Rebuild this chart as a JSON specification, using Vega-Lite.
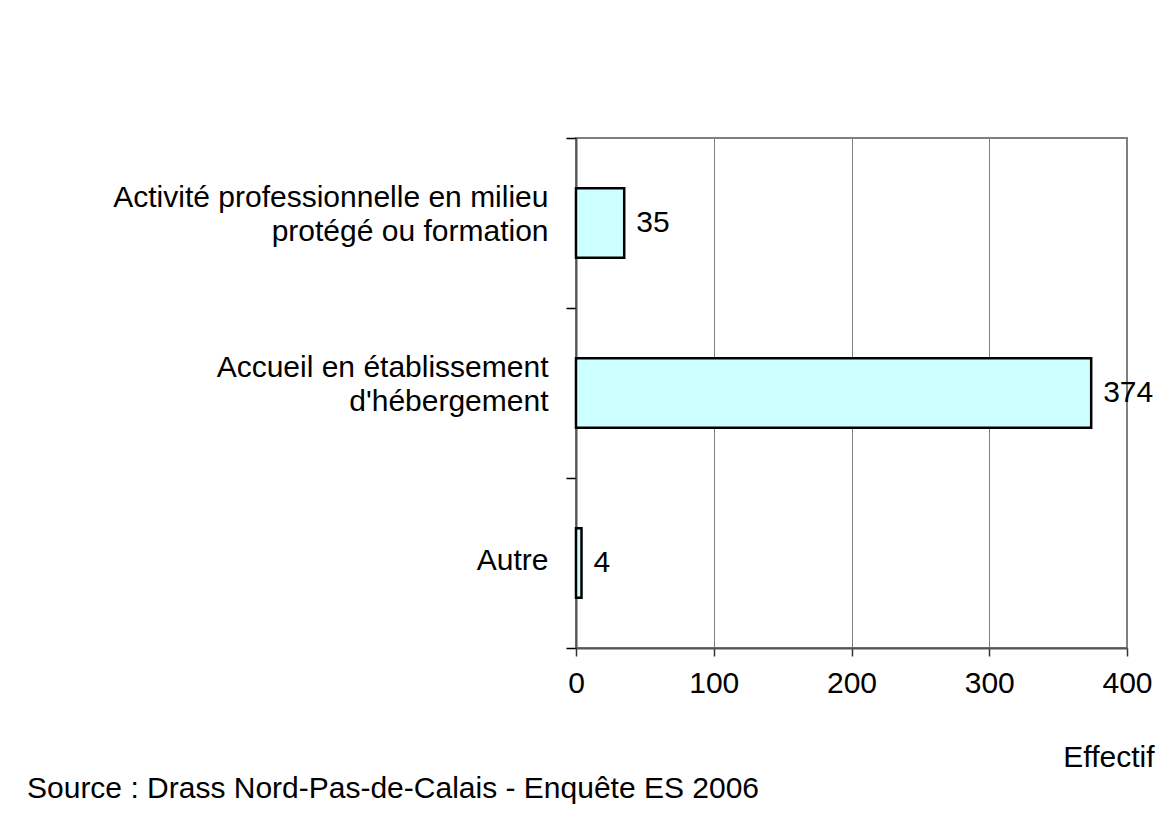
{
  "$schema": "https://vega.github.io/schema/vega-lite/v6.json",
  "autosize": {"type": "none"},
  "padding": {"left": 576, "top": 138, "right": 33, "bottom": 192},
  "width": 551,
  "height": 510,
  "background": "white",
  "config": {
    "font": "Liberation Sans",
    "view": {"stroke": "#808080", "strokeWidth": 2}
  },
  "title": {
    "text": "Source : Drass Nord-Pas-de-Calais - Enquête ES 2006",
    "orient": "bottom",
    "anchor": "start",
    "frame": "group",
    "dx": -549,
    "offset": 2,
    "fontSize": 30,
    "fontWeight": "normal",
    "color": "black",
    "font": "Liberation Sans"
  },
  "data": {
    "values": [
      {"cat": "Activité professionnelle en milieu|protégé ou formation", "n": 35},
      {"cat": "Accueil en établissement|d'hébergement", "n": 374},
      {"cat": "Autre", "n": 4}
    ]
  },
  "encoding": {
    "y": {
      "field": "cat",
      "type": "nominal",
      "sort": null,
      "scale": {"paddingInner": 0, "paddingOuter": 0},
      "axis": {
        "title": null,
        "labelExpr": "split(datum.label, '|')",
        "labelFontSize": 30,
        "labelColor": "black",
        "labelLineHeight": 34,
        "labelPadding": 18,
        "labelLimit": 600,
        "labelOffset": {"expr": "datum.value == 'Autre' ? -3 : -26"},
        "tickBand": "extent",
        "tickSize": 10,
        "tickColor": "black",
        "tickWidth": 1.5,
        "domainColor": "#555555",
        "domainWidth": 2,
        "grid": false
      }
    },
    "x": {
      "field": "n",
      "type": "quantitative",
      "scale": {"domain": [0, 400], "nice": false},
      "axis": {
        "values": [0, 100, 200, 300, 400],
        "title": "Effectif",
        "titleFontSize": 30,
        "titleFontWeight": "normal",
        "titleColor": "black",
        "titleAnchor": "end",
        "titleAlign": "right",
        "titleBaseline": "alphabetic",
        "titleX": 578,
        "titleY": 118,
        "labelFontSize": 30,
        "labelColor": "black",
        "labelPadding": 12,
        "labelFlush": false,
        "tickSize": 8,
        "tickColor": "#333333",
        "tickWidth": 1.5,
        "domainColor": "#555555",
        "domainWidth": 2,
        "grid": true,
        "gridColor": "#808080",
        "gridWidth": 1
      }
    }
  },
  "layer": [
    {
      "mark": {"type": "bar", "fill": "#CCFFFF", "stroke": "black", "strokeWidth": 2.5, "height": {"band": 0.41}}
    },
    {
      "mark": {"type": "text", "align": "left", "baseline": "middle", "dx": 12, "fontSize": 30, "color": "black"},
      "encoding": {"text": {"field": "n", "type": "quantitative"}}
    }
  ]
}
